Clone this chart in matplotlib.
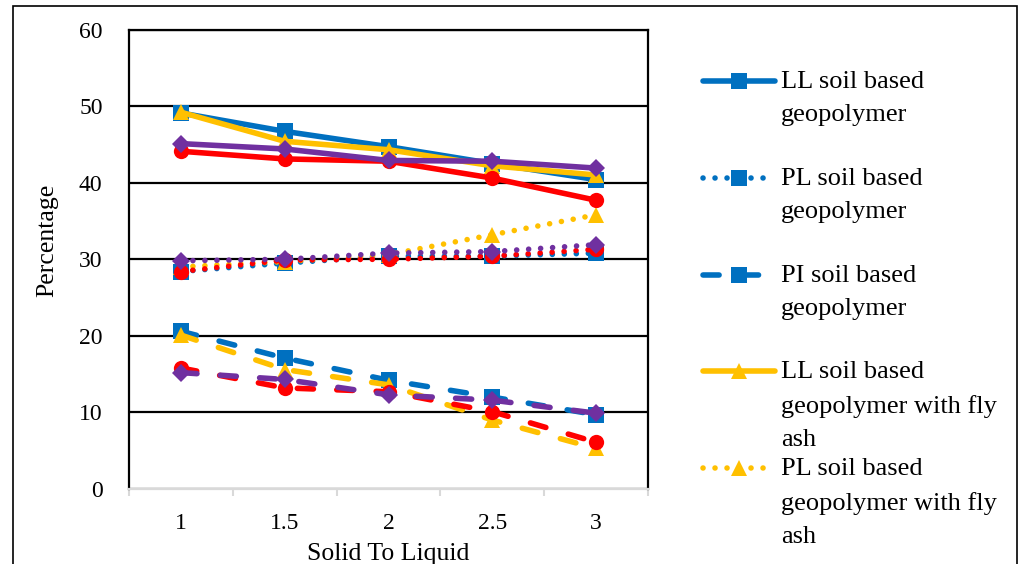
import numpy as np
import matplotlib
matplotlib.use("Agg")
import matplotlib.pyplot as plt
from matplotlib.lines import Line2D
from matplotlib.patches import Rectangle

plt.rcParams['font.family'] = ['Liberation Serif', 'DejaVu Serif']

# data
ratios = ["1", "1.5", "2", "2.5", "3"]

ll_soil = [49.1, 46.7, 44.7, 42.5, 40.4]
pl_soil = [28.4, 29.5, 30.4, 30.4, 30.8]
pi_soil = [20.6, 17.1, 14.2, 12.0, 9.7]

ll_fly = [49.2, 45.4, 44.3, 42.2, 41.0]
pl_fly = [29.0, 29.7, 30.6, 33.2, 35.8]
pi_fly = [20.1, 15.6, 13.6, 9.0, 5.3]

ll_red = [44.1, 43.1, 42.8, 40.6, 37.7]
pl_red = [28.4, 29.9, 30.0, 30.4, 31.3]
pi_red = [15.8, 13.2, 12.7, 10.1, 6.1]

ll_purple = [45.1, 44.4, 42.9, 42.8, 41.9]
pl_purple = [29.8, 30.0, 30.8, 31.0, 31.9]
pi_purple = [15.2, 14.3, 12.3, 11.6, 9.9]

legend_labels = [
    "LL soil based\ngeopolymer",
    "PL soil based\ngeopolymer",
    "PI soil based\ngeopolymer",
    "LL soil based\ngeopolymer with fly\nash",
    "PL soil based\ngeopolymer with fly\nash",
]

blue = "#0070C0"
yellow = "#FFC000"
red = "#FF0000"
purple = "#7030A0"

lw = 4
ms = 11
solid = dict(linestyle="-")
dotted = dict(linestyle=(0, (0.01, 2.15)), dash_capstyle="round")
dashed = dict(linestyle=(0, (2.9, 4.2)), dash_capstyle="round")

groups = [
    (blue, "s", ll_soil, pl_soil, pi_soil),
    (yellow, "^", ll_fly, pl_fly, pi_fly),
    (red, "o", ll_red, pl_red, pi_red),
    (purple, "D", ll_purple, pl_purple, pi_purple),
]

fig = plt.figure(figsize=(10.21, 5.64), dpi=100)
ax = fig.add_axes([129 / 1021, 1 - 489 / 564, (648 - 129) / 1021, (489 - 29.5) / 564])

x = np.arange(len(ratios))
for color, mk, ll, pl, pi in groups:
    msz = ms * 0.85 if mk == "D" else ms
    for vals, st in ((ll, solid), (pl, dotted), (pi, dashed)):
        ax.plot(x, vals, color=color, lw=lw, marker=mk, markersize=msz,
                markeredgewidth=0, solid_capstyle="round", **st)

ax.set_xlim(-0.5, len(ratios) - 0.5)
ax.set_ylim(0, 60)
ax.set_yticks(np.arange(0, 61, 10))
ax.yaxis.grid(True, color="black", lw=1.6)
ax.set_axisbelow(True)
ax.set_xticks(x)
ax.set_xticklabels(ratios)
ax.set_xticks(np.arange(-0.5, len(ratios), 1), minor=True)
ax.tick_params(axis="x", which="major", length=0, pad=17, labelsize=17)
ax.tick_params(axis="x", which="minor", length=5, width=1.5, color="#D9D9D9")
ax.tick_params(axis="y", length=0, pad=19, labelsize=17)

for side in ("left", "top", "right"):
    ax.spines[side].set_color("black")
    ax.spines[side].set_linewidth(1.6)
ax.spines["bottom"].set_color("#D9D9D9")
ax.spines["bottom"].set_linewidth(1.6)

ax.set_xlabel("Solid To Liquid", fontsize=18.5)
ax.xaxis.set_label_coords(0.5, -0.118)
ax.set_ylabel("Percentage", fontsize=18.5)
ax.yaxis.set_label_coords(-0.136, 0.54)

# manual legend (only the first entries fit in the figure)
leg_styles = [(blue, "s", solid), (blue, "s", dotted), (blue, "s", dashed),
              (yellow, "^", solid), (yellow, "^", dotted)]
y0 = 1 - 81 / 564
step = 96.8 / 564
for i, ((color, mk, st), lab) in enumerate(zip(leg_styles, legend_labels)):
    yy = y0 - i * step
    fig.add_artist(Line2D([703 / 1021, 775 / 1021], [yy, yy], color=color, lw=lw,
                          solid_capstyle="round", transform=fig.transFigure, **st))
    fig.add_artist(Line2D([739 / 1021], [yy], color=color, marker=mk, markersize=ms,
                          markeredgewidth=0, transform=fig.transFigure))
    fig.text(781 / 1021, yy + 10 / 564, lab, fontsize=19, va="top", ha="left",
             linespacing=1.65)

# outer frame of the chart
fig.add_artist(Rectangle((13 / 1021, -0.1), (1017 - 13) / 1021, 1.1 - 6 / 564,
                         fill=False, edgecolor="black", lw=1.2,
                         transform=fig.transFigure))

fig.savefig("out.png", dpi=100)
